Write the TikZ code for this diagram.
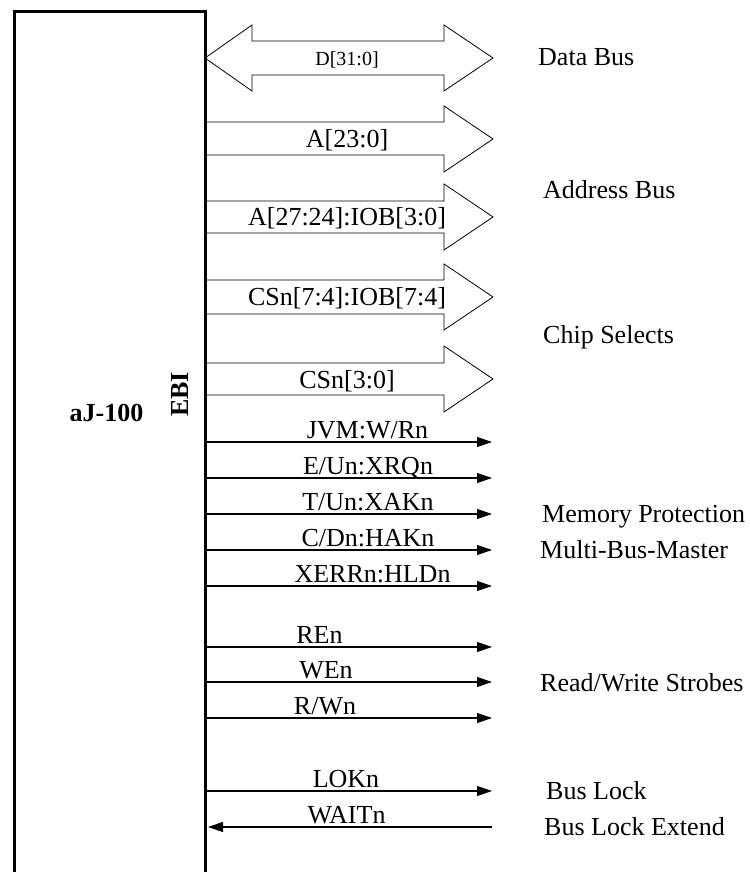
\documentclass[tikz,border=0pt]{standalone}
\usepackage{fontspec}
\setmainfont{Liberation Serif}
\usetikzlibrary{positioning,arrows.meta}

\begin{document}
\begin{tikzpicture}[x=1pt, y=-1pt,
    chip/.style={draw, line width=3pt, minimum width=190.5pt, minimum height=900pt,
        anchor=north west, inner sep=0pt},
    bus/.style={draw, line width=0.8pt, line join=miter},
    sig/.style={line width=1.1pt, -{Triangle[length=15pt, width=10pt]}},
    siglbl/.style={anchor=base, inner sep=0pt, font=\fontsize{26}{30}\selectfont},
    grplbl/.style={anchor=base west, inner sep=0pt, font=\fontsize{26}{30}\selectfont}]
    \useasboundingbox (0,0) rectangle (749,872);

    % =========================================================
    % CHIP BLOCK
    % =========================================================
    \node[chip] (aj) at (13,10.5) {};
    \node[anchor=base, inner sep=0pt, font=\fontsize{26}{30}\selectfont\bfseries] (ajname) at (106.5,421) {aJ-100};
    \node[anchor=base, rotate=90, inner sep=0pt, font=\fontsize{26}{30}\selectfont\bfseries] (ebi) at (188,394.5) {EBI};

    % =========================================================
    % BUSES
    % =========================================================
    % Data bus D[31:0] (both ways)
    \draw[bus] (205,58) -- (252,25) -- (252,41) -- (444,41) -- (444,25) -- (493,58)
        -- (444,91) -- (444,75) -- (252,75) -- (252,91) -- cycle;
    \node[anchor=base, inner sep=0pt, font=\fontsize{20}{24}\selectfont] (dlbl) at (347,66) {D[31:0]};

    % Address bus A[23:0]
    \draw[bus] (205,122) -- (444,122) -- (444,106) -- (493,139) -- (444,172) -- (444,155) -- (205,155);
    \node[siglbl] (alo) at (347,147) {A[23:0]};

    % Address bus A[27:24]:IOB[3:0]
    \draw[bus] (205,201) -- (444,201) -- (444,184) -- (493,217) -- (444,250) -- (444,233) -- (205,233);
    \node[siglbl] (ahi) at (347,225) {A[27:24]:IOB[3:0]};

    % Chip selects CSn[7:4]:IOB[7:4]
    \draw[bus] (205,280) -- (444,280) -- (444,264) -- (493,297) -- (444,330) -- (444,314) -- (205,314);
    \node[siglbl] (cshi) at (347,305) {CSn[7:4]:IOB[7:4]};

    % Chip selects CSn[3:0]
    \draw[bus] (205,363) -- (444,363) -- (444,346) -- (493,379) -- (444,412) -- (444,395) -- (205,395);
    \node[siglbl] (cslo) at (347,388) {CSn[3:0]};

    % =========================================================
    % SINGLE SIGNALS
    % =========================================================
    \coordinate (jvm) at (492,442);
    \coordinate (eun) at (492,478);
    \coordinate (tun) at (492,514);
    \coordinate (cdn) at (492,550);
    \coordinate (xerr) at (492,586);
    \coordinate (ren) at (492,647);
    \coordinate (wen) at (492,682);
    \coordinate (rwn) at (492,718);
    \coordinate (lok) at (492,791);
    \coordinate (wait) at (492,827);

    \draw[sig] (aj.east |- jvm) -- (jvm);
    \draw[sig] (aj.east |- eun) -- (eun);
    \draw[sig] (aj.east |- tun) -- (tun);
    \draw[sig] (aj.east |- cdn) -- (cdn);
    \draw[sig] (aj.east |- xerr) -- (xerr);
    \draw[sig] (aj.east |- ren) -- (ren);
    \draw[sig] (aj.east |- wen) -- (wen);
    \draw[sig] (aj.east |- rwn) -- (rwn);
    \draw[sig] (aj.east |- lok) -- (lok);
    \draw[sig, shorten >=1.5pt] (wait) -- (aj.east |- wait);

    \node[siglbl] (jvmlbl) at (367.5,438) {JVM:W/Rn};
    \node[siglbl] (eunlbl) at (368,474) {E/Un:XRQn};
    \node[siglbl] (tunlbl) at (368,510) {T/Un:XAKn};
    \node[siglbl] (cdnlbl) at (368,546) {C/Dn:HAKn};
    \node[siglbl] (xerrlbl) at (372.5,582) {XERRn:HLDn};
    \node[siglbl] (renlbl) at (319.5,643) {REn};
    \node[siglbl] (wenlbl) at (326,678) {WEn};
    \node[siglbl] (rwnlbl) at (325,714) {R/Wn};
    \node[siglbl] (loklbl) at (346,787) {LOKn};
    \node[siglbl] (waitlbl) at (346.5,823) {WAITn};

    % =========================================================
    % GROUP NAMES
    % =========================================================
    \node[grplbl] (databus) at (538,66) {Data Bus};
    \node[grplbl] (addrbus) at (543,198) {Address Bus};
    \node[grplbl] (chipsel) at (543,343) {Chip Selects};
    \node[grplbl] (memprot) at (542,522) {Memory Protection};
    \node[grplbl] (multibus) at (540,558) {Multi-Bus-Master};
    \node[grplbl] (rwstrobe) at (540,691) {Read/Write Strobes};
    \node[grplbl] (buslock) at (546,799) {Bus Lock};
    \node[grplbl] (buslockx) at (544,835) {Bus Lock Extend};
\end{tikzpicture}
\end{document}
